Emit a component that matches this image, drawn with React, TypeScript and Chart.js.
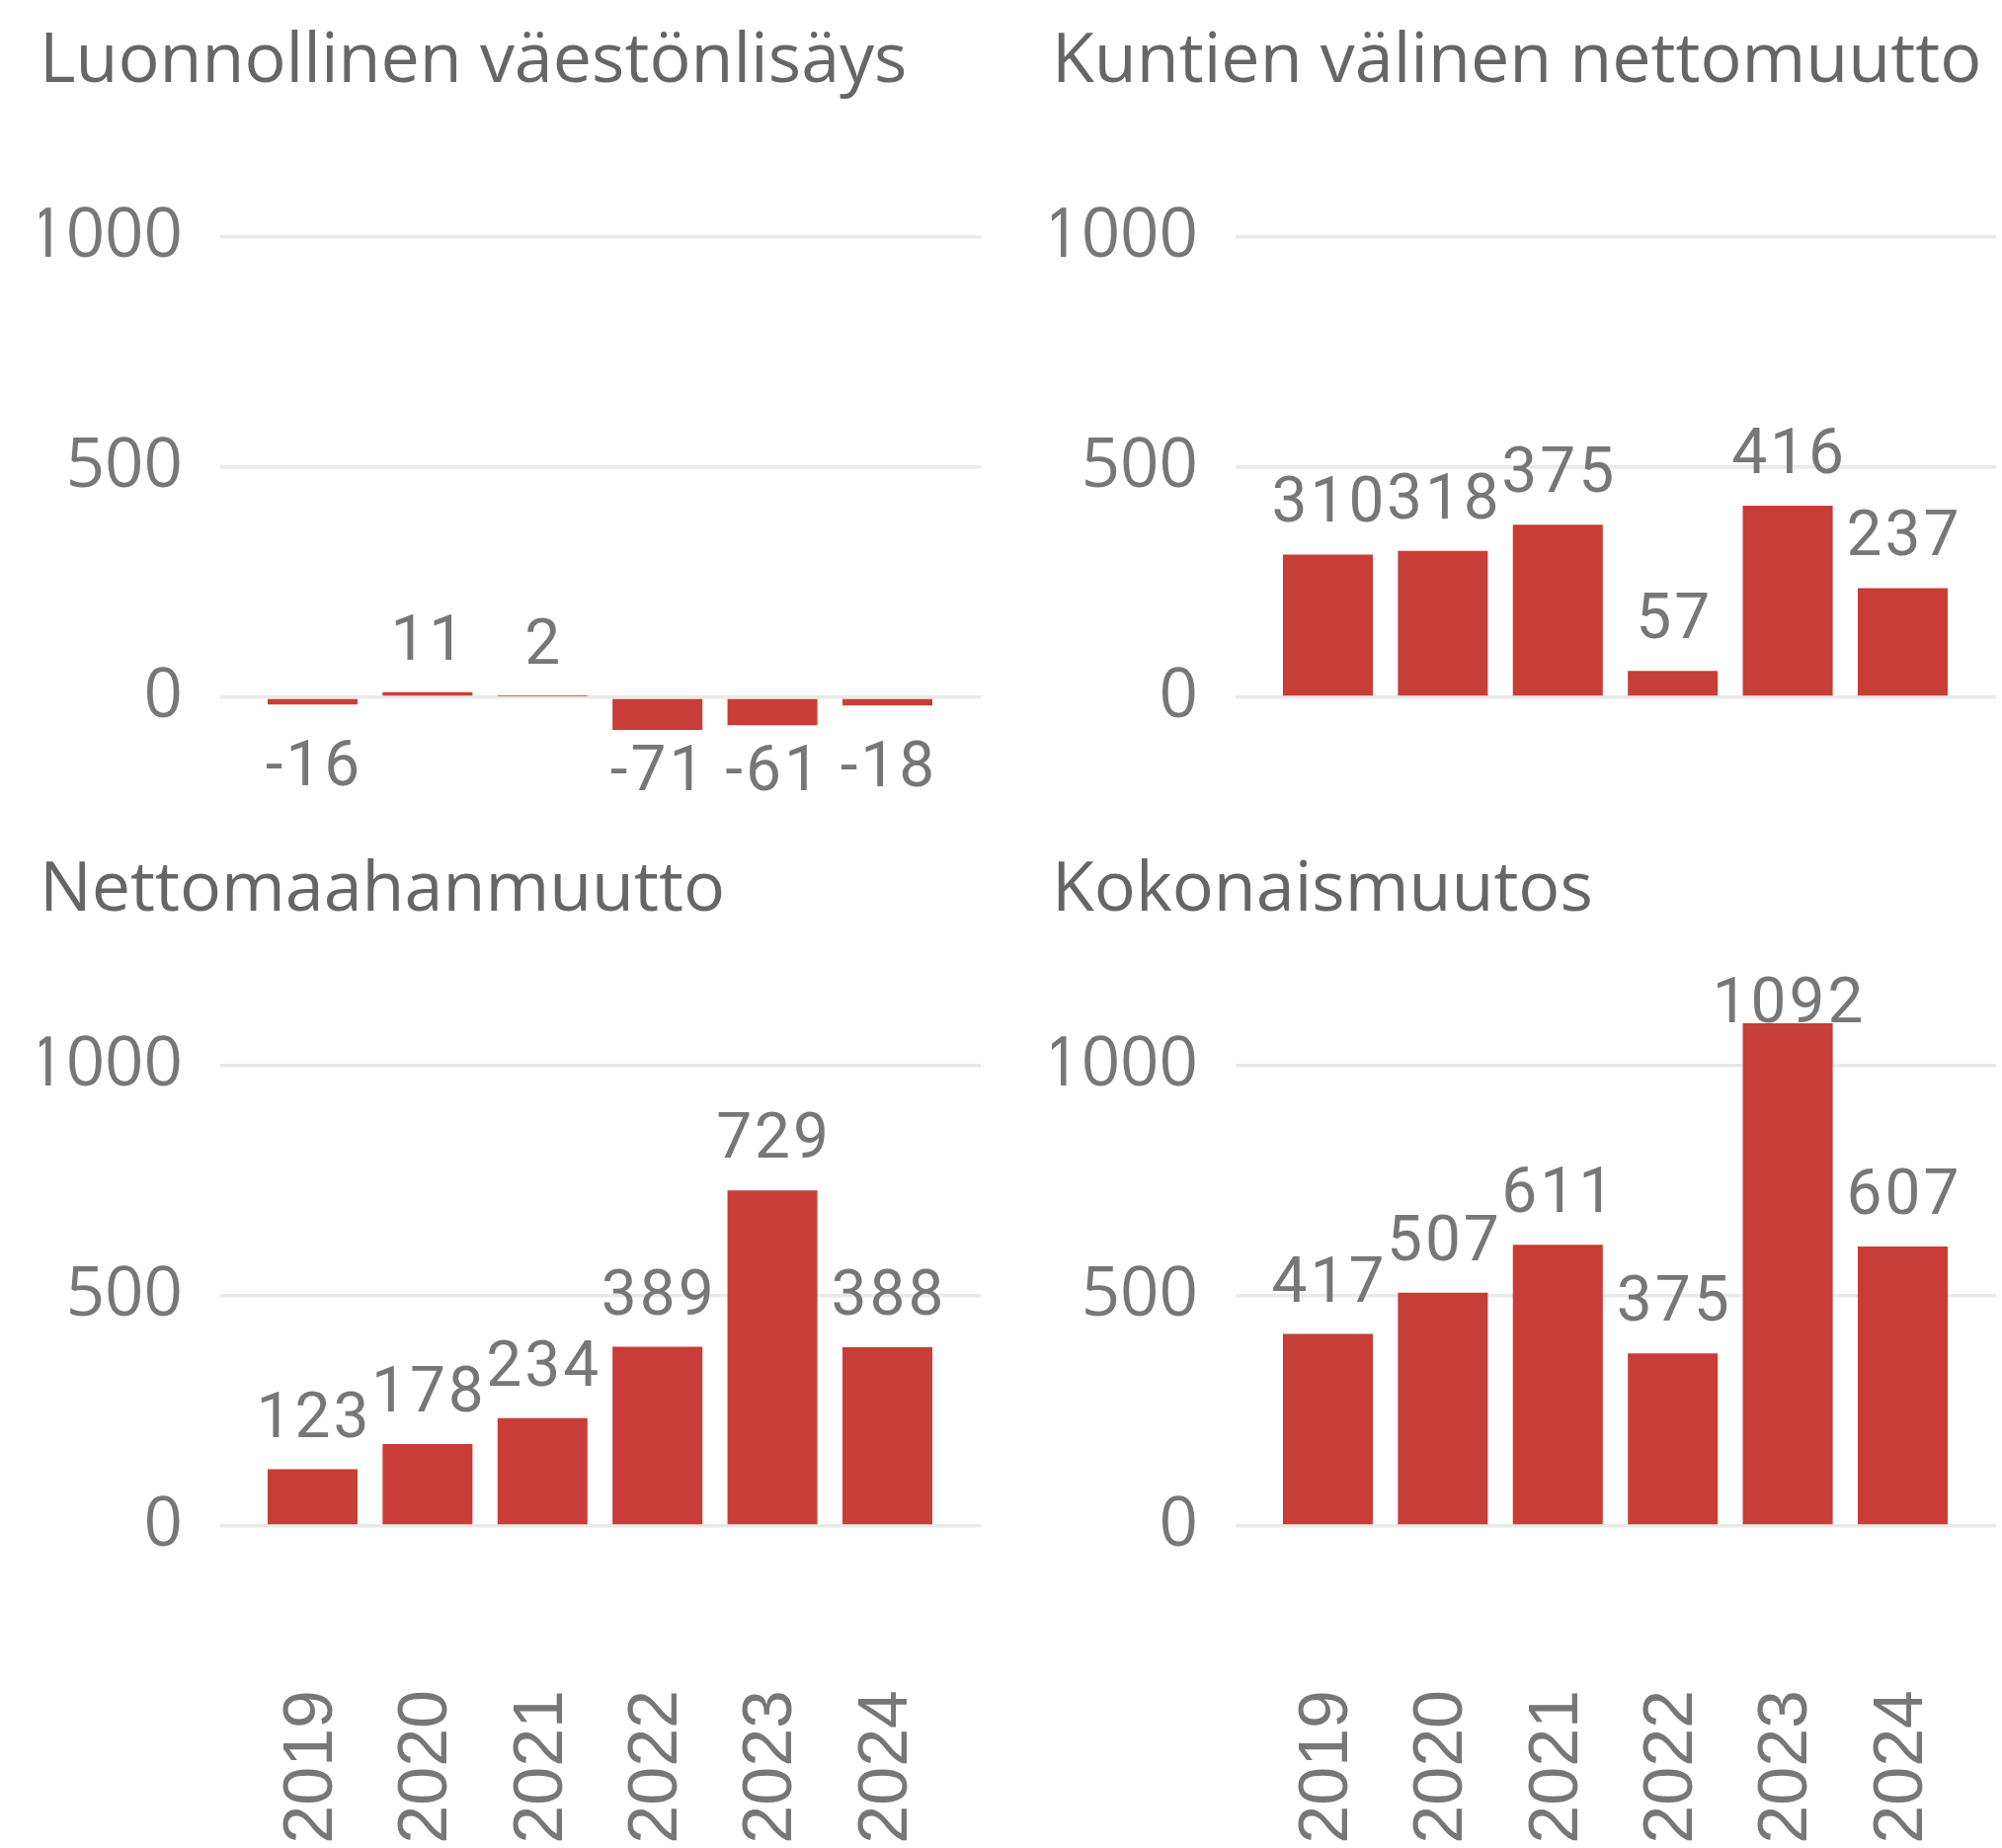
import React, { useEffect, useRef } from 'react';
import { Chart, registerables } from 'chart.js';

Chart.register(...registerables);

// ---- data ----
const YEARS = ['2019', '2020', '2021', '2022', '2023', '2024'];
const LUONNOLLINEN = [-16, 11, 2, -71, -61, -18];
const KUNTIEN_VALINEN = [310, 318, 375, 57, 416, 237];
const NETTOMAAHANMUUTTO = [123, 178, 234, 389, 729, 388];
const KOKONAISMUUTOS = [417, 507, 611, 375, 1092, 607];
const TITLES = [
  'Luonnollinen väestönlisäys',
  'Kuntien välinen nettomuutto',
  'Nettomaahanmuutto',
  'Kokonaismuutos',
];
const Y_TICKS = [0, 500, 1000];

// ---- style ----
const Y_MIN = -202;
const Y_MAX = 1193;
const X_MIN = -0.803;
const X_MAX = 5.812;
const RED = '#c83d37';
const GRID = '#e9e9e9';
const TICK_COLOR = '#777777';
const TITLE_COLOR = '#666666';
const LABEL_COLOR = '#777777';
const LABEL_SIZE = 64;
const AREA_LEFT = 223;
const AREA_BOTTOM = 800;

const valueLabels = {
  id: 'valueLabels',
  afterDatasetsDraw(chart: any) {
    const { ctx, chartArea } = chart;
    const meta = chart.getDatasetMeta(0);
    const data = chart.data.datasets[0].data as any[];
    ctx.save();
    ctx.font = `400 ${LABEL_SIZE}px Roboto`;
    try {
      (ctx as any).letterSpacing = '3px';
    } catch (e) {}
    ctx.fillStyle = LABEL_COLOR;
    ctx.textAlign = 'center';
    ctx.textBaseline = 'alphabetic';
    const h = LABEL_SIZE * 0.711;
    meta.data.forEach((bar: any, i: number) => {
      const v = data[i].y;
      const { x, y } = bar.getProps(['x', 'y'], true);
      let baseline: number;
      if (v >= 0) {
        baseline = y - 33;
        if (baseline - h < chartArea.top) baseline = chartArea.top + h;
      } else {
        baseline = y + 36 + h;
        if (baseline > chartArea.bottom) baseline = chartArea.bottom;
      }
      ctx.fillText(String(v), x + 1.5, baseline);
    });
    ctx.restore();
  },
};

type PanelProps = {
  title: string;
  values: number[];
  showX: boolean;
  left: number;
  top: number;
  width: number;
  height: number;
  padLeft: number;
  padRight: number;
};

function Panel({ title, values, showX, left, top, width, height, padLeft, padRight }: PanelProps) {
  const ref = useRef<HTMLCanvasElement>(null);
  useEffect(() => {
    const chart = new Chart(ref.current as HTMLCanvasElement, {
      type: 'bar',
      data: {
        datasets: [
          {
            data: values.map((v, i) => ({ x: i, y: v })) as any,
            backgroundColor: RED,
            borderWidth: 0,
            barPercentage: 0.782,
            categoryPercentage: 1,
          },
        ],
      },
      options: {
        responsive: false,
        maintainAspectRatio: false,
        animation: false,
        devicePixelRatio: 1,
        layout: { autoPadding: false, padding: { left: padLeft, right: padRight, top: 0, bottom: 0 } },
        plugins: {
          legend: { display: false },
          tooltip: { enabled: false },
          title: {
            display: true,
            text: title,
            align: 'start',
            color: TITLE_COLOR,
            font: { family: 'Open Sans', size: 70, weight: 'normal', lineHeight: 1.2 },
            padding: { top: 21, bottom: 45 },
          },
        },
        scales: {
          x: {
            type: 'linear',
            min: X_MIN,
            max: X_MAX,
            offset: false,
            grid: { display: false, drawTicks: false, offset: false },
            border: { display: false },
            afterBuildTicks: (s: any) => {
              s.ticks = YEARS.map((_, i) => ({ value: i }));
            },
            afterFit: (s: any) => {
              s.height = height - AREA_BOTTOM;
              s.paddingLeft = 0;
              s.paddingRight = 0;
            },
            ticks: {
              display: showX,
              minRotation: 90,
              maxRotation: 90,
              autoSkip: false,
              padding: 72,
              color: TICK_COLOR,
              font: { family: 'Liberation Sans', size: 70 },
              callback: (v: any) => YEARS[v] ?? '',
            },
          },
          y: {
            min: Y_MIN,
            max: Y_MAX,
            afterBuildTicks: (s: any) => {
              s.ticks = Y_TICKS.map((v) => ({ value: v }));
            },
            afterFit: (s: any) => {
              s.width = AREA_LEFT - padLeft;
              s.paddingTop = 0;
              s.paddingBottom = 0;
            },
            grid: { color: GRID, lineWidth: 3.5, drawTicks: false },
            border: { display: false },
            ticks: {
              padding: 38,
              color: TICK_COLOR,
              font: { family: 'Open Sans', size: 69 },
              callback: (v: any) => String(v),
            },
          },
        },
      } as any,
      plugins: [valueLabels],
    });
    return () => chart.destroy();
  }, []);
  return (
    <canvas
      ref={ref}
      width={width}
      height={height}
      style={{ position: 'absolute', left, top, width, height }}
    />
  );
}

export default function App() {
  return (
    <div
      style={{
        position: 'absolute',
        left: 0,
        top: 0,
        width: 2027,
        height: 1871,
        background: '#ffffff',
        overflow: 'hidden',
      }}
    >
      <Panel title={TITLES[0]} values={LUONNOLLINEN} showX={false} left={0} top={0} width={1013} height={839} padLeft={40} padRight={20} />
      <Panel title={TITLES[1]} values={KUNTIEN_VALINEN} showX={false} left={1028} top={0} width={999} height={839} padLeft={37} padRight={6} />
      <Panel title={TITLES[2]} values={NETTOMAAHANMUUTTO} showX={true} left={0} top={839} width={1013} height={1032} padLeft={40} padRight={20} />
      <Panel title={TITLES[3]} values={KOKONAISMUUTOS} showX={true} left={1028} top={839} width={999} height={1032} padLeft={37} padRight={6} />
    </div>
  );
}
